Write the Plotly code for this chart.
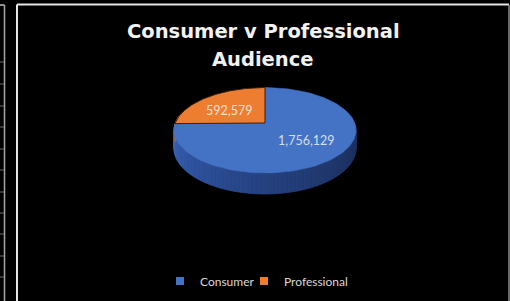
import numpy as np
import plotly.graph_objects as go

# ---------------- data ----------------
categories = ["Consumer", "Professional"]
values = [1756129, 592579]
value_labels = ["1,756,129", "592,579"]
slice_colors = ["#4472C4", "#ED7D31"]
title_lines = ["Consumer v Professional", "Audience"]

# ---------------- layout constants (pixels) ----------------
W, H = 510, 301
CX, CY = 265.0, 123.0      # projected pie centre
RX = 89.7                  # horizontal radius at centre depth
A = 41.5                   # vertical radius factor
K = -0.17                  # perspective factor
DEPTH = 17.4               # pie thickness
LEGEND_X = [160, 244]      # left edges of the two legend boxes (px)


def project(phi_deg, r=1.0, h=0.0):
    phi = np.radians(phi_deg)
    u = r * np.sin(phi)
    v = -r * np.cos(phi)
    d = 1 + K * v
    return CX + RX * u / d, CY + (A * v + DEPTH * h) / d


def side_color(phi, base):
    # lighting: lighter at the left, darker at the right
    t = (phi - 90.0) / 180.0
    if base == 0:
        stops = [(0.0, (27, 46, 90)), (0.25, (31, 54, 106)), (0.5, (37, 65, 127)),
                 (0.75, (47, 83, 160)), (1.0, (62, 104, 185))]
    else:
        stops = [(0.0, (120, 55, 15)), (1.0, (200, 100, 35))]
    t = min(max(t, 0.0), 1.0)
    for (t0, c0), (t1, c1) in zip(stops[:-1], stops[1:]):
        if t0 <= t <= t1:
            f = (t - t0) / (t1 - t0) if t1 > t0 else 0
            c = [round(a + (b - a) * f) for a, b in zip(c0, c1)]
            return "rgb(%d,%d,%d)" % tuple(c)
    return "rgb(%d,%d,%d)" % stops[-1][1]


total = float(sum(values))
bounds = [0.0]
for v in values:
    bounds.append(bounds[-1] + 360.0 * v / total)

fig = go.Figure()

# ---- side (visible front wall) ----
N = 90
side_angles = np.linspace(75, 285, N + 1)
for a0, a1 in zip(side_angles[:-1], side_angles[1:]):
    mid = 0.5 * (a0 + a1)
    idx = 0 if mid < bounds[1] else 1
    col = side_color(mid, idx)
    xt0, yt0 = project(a0)
    xt1, yt1 = project(a1)
    xb1, yb1 = project(a1, h=1.0)
    xb0, yb0 = project(a0, h=1.0)
    fig.add_trace(go.Scatter(
        x=[xt0, xt1, xb1, xb0, xt0], y=[yt0, yt1, yb1, yb0, yt0],
        mode="lines", fill="toself", fillcolor=col,
        line=dict(color=col, width=0.8), hoverinfo="skip", showlegend=False))

# ---- top faces ----
for i, (cat, col) in enumerate(zip(categories, slice_colors)):
    angs = np.linspace(bounds[i], bounds[i + 1], 120)
    xs, ys = project(angs)
    cx0, cy0 = project(0.0, r=0.0)
    px = [cx0] + list(xs) + [cx0]
    py = [cy0] + list(ys) + [cy0]
    line = dict(color="rgba(50,25,5,0.9)", width=1) if i == 1 else dict(color=col, width=0.5)
    fig.add_trace(go.Scatter(
        x=px, y=py, mode="lines", fill="toself", fillcolor=col, line=line,
        name=cat, hoverinfo="skip", showlegend=False))

# ---- data labels ----
lx, ly = [], []
for i in range(len(values)):
    mid = 0.5 * (bounds[i] + bounds[i + 1])
    x, y = project(mid, r=0.6)
    lx.append(x)
    ly.append(y + (5 if i == 1 else 0))
fig.add_trace(go.Scatter(
    x=lx, y=ly, mode="text", text=value_labels, textposition="middle center",
    textfont=dict(family="Lato", size=12.5, color="rgba(255,255,255,0.78)"),
    hoverinfo="skip", showlegend=False))

# ---- legend entries (one legend box per entry for tight spacing) ----
legend_ids = ["legend", "legend2"]
for cat, col, lid in zip(categories, slice_colors, legend_ids):
    fig.add_trace(go.Scatter(
        x=[None], y=[None], mode="markers", name=cat, legend=lid,
        marker=dict(symbol="square", size=8, color=col)))

# ---- title ----
for j, (txt, yy) in enumerate(zip(title_lines, [31, 59])):
    fig.add_annotation(x=263, y=yy, xref="x", yref="y", text=txt, showarrow=False,
                       xanchor="center", yanchor="middle",
                       font=dict(family="DejaVu Sans", size=19.5, color="#F2F2F2", weight="bold"))

# ---- decorative borders ----
shapes = [
    dict(type="line", x0=17, y0=4.5, x1=509, y1=4.5, line=dict(color="#E6E6E6", width=2)),
    dict(type="line", x0=17, y0=4.5, x1=17, y1=305, line=dict(color="#E6E6E6", width=2)),
    dict(type="line", x0=509, y0=5, x1=509, y1=305, line=dict(color="#8C8C8C", width=1.5)),
    dict(type="line", x0=0, y0=5, x1=4.5, y1=5, line=dict(color="#BFBFBF", width=1.5)),
    dict(type="line", x0=4.5, y0=5, x1=4.5, y1=305, line=dict(color="#A6A6A6", width=1.5)),
]
for ty in [62, 84, 106, 127, 149, 170, 192, 213, 234, 256, 277]:
    shapes.append(dict(type="line", x0=0, y0=ty, x1=4, y1=ty, line=dict(color="#6E6E6E", width=1)))


def legend_box(px_left):
    return dict(orientation="h", x=px_left / W, xanchor="left", y=1 - 281 / H, yanchor="middle",
                font=dict(family="Lato", size=12, color="#D9D9D9"),
                bgcolor="rgba(0,0,0,0)", itemwidth=30)


fig.update_layout(
    width=W, height=H,
    margin=dict(l=0, r=0, t=0, b=0),
    paper_bgcolor="#000000", plot_bgcolor="#000000",
    xaxis=dict(range=[0, W], visible=False, fixedrange=True),
    yaxis=dict(range=[H, 0], visible=False, fixedrange=True),
    shapes=shapes,
    legend=legend_box(LEGEND_X[0]),
    legend2=legend_box(LEGEND_X[1]),
    showlegend=True,
)

fig.write_html(
    "out.html",
    config={"displayModeBar": False},
    post_script="document.body.style.margin='0';document.body.style.overflow='hidden';"
                "document.body.style.background='#000';",
)
